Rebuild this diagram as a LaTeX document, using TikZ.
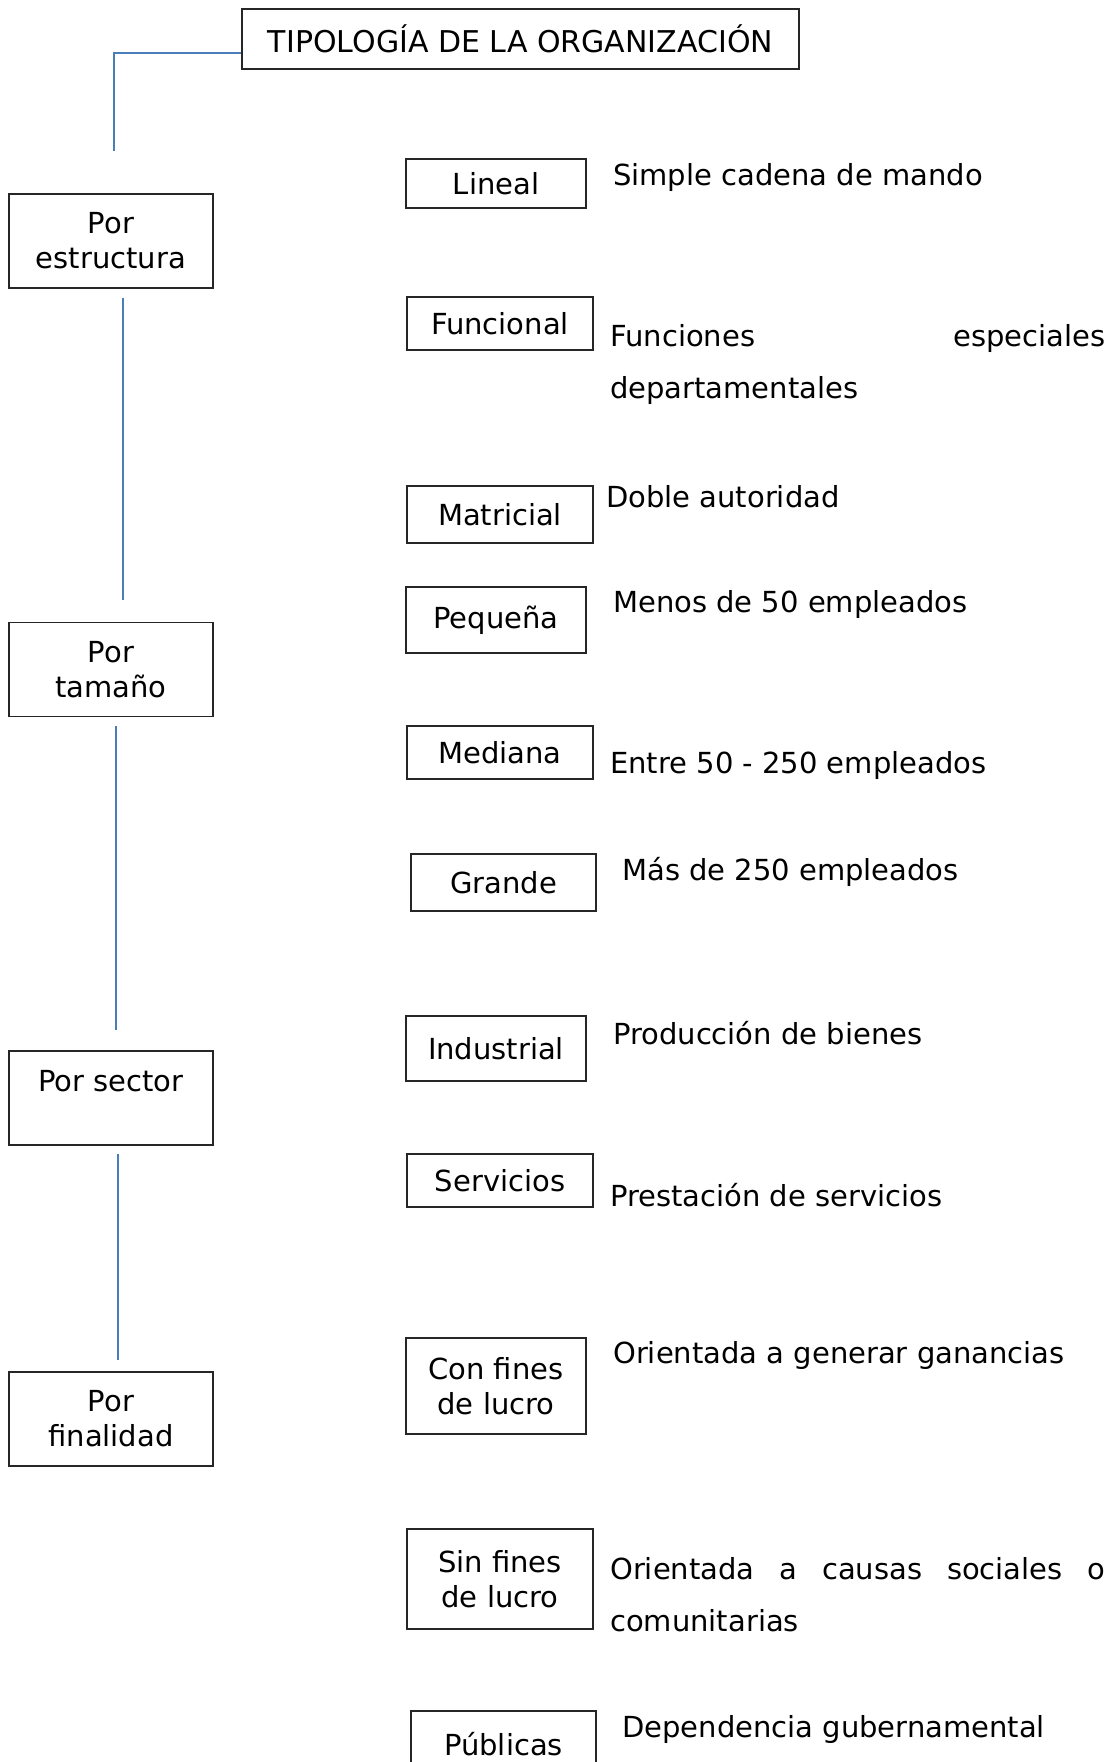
\documentclass[tikz,border=0pt]{standalone}
\usepackage{fontspec}
\setmainfont{DejaVu Sans}
\usepackage{tikz}
\usetikzlibrary{positioning}
\definecolor{azul}{HTML}{4A7EBB}

\begin{document}
\begin{tikzpicture}[x=1pt,y=-1pt,
    caja/.style={draw=black!85, line width=1.2pt, inner sep=0pt, align=center,
                 font=\fontsize{29}{35}\selectfont},
    cat/.style={caja, minimum width=204, minimum height=94},
    desc/.style={anchor=west, inner sep=0pt, font=\fontsize{29}{52}\selectfont},
    linea/.style={draw=azul, line width=1.5pt}]

    \useasboundingbox (0,0) rectangle (1116,1762);

    % titulo
    \node[caja, minimum width=557, minimum height=60, font=\fontsize{30}{35}\selectfont] (T) at (520.5,39) {TIPOLOGÍA DE LA ORGANIZACIÓN};

    % columna izquierda
    \foreach \n/\y/\t in {E/241/{Por\\estructura}, Ta/669.5/{Por\\tamaño}, Se/1098/{Por sector\\~}, F/1419/{Por\\finalidad}}
        \node[cat] (\n) at (111,\y) {\t};

    \coordinate (c0) at (114,151);
    \draw[linea] ([yshift=-14pt]T.west) -| (c0);
    \draw[linea] ([xshift=12pt,yshift=-9pt]E.south) -- ([xshift=12pt,yshift=22pt]Ta.north);
    \draw[linea] ([xshift=5pt,yshift=-9pt]Ta.south) -- ([xshift=5pt,yshift=20pt]Se.north);
    \draw[linea] ([xshift=7pt,yshift=-8pt]Se.south) -- ([xshift=7pt,yshift=11pt]F.north);

    % cajas de la derecha
    \node[caja, minimum width=180, minimum height=49] (lin) at (496,183.5) {Lineal};
    \node[caja, minimum width=186, minimum height=53] (fun) at (500,323.5) {Funcional};
    \node[caja, minimum width=186, minimum height=57] (mat) at (500,514.5) {Matricial};
    \node[caja, minimum width=180, minimum height=66] (peq) at (496,620) {Pequeña};
    \node[caja, minimum width=186, minimum height=53] (med) at (500,752.5) {Mediana};
    \node[caja, minimum width=185, minimum height=57] (gra) at (503.5,882.5) {Grande};
    \node[caja, minimum width=180, minimum height=65] (ind) at (496,1048.5) {Industrial};
    \node[caja, minimum width=186, minimum height=53] (ser) at (500,1180.5) {Servicios};
    \node[caja, minimum width=180, minimum height=96] (con) at (496,1386) {Con fines\\de lucro};
    \node[caja, minimum width=186, minimum height=100] (sin) at (500,1579) {Sin fines\\de lucro};
    \node[caja, minimum width=185, minimum height=66] (pub) at (503.5,1744) {Públicas};

    % descripciones
    \node[desc] (dlin) at (613,177) {Simple cadena de mando};
    \node[desc, text width=495, align=justify] (dfun) at (610,364) {Funciones especiales\linebreak \mbox{departamentales}};
    \node[desc] (dmat) at (606,497) {Doble autoridad};
    \node[desc] (dpeq) at (613,604) {Menos de 50 empleados};
    \node[desc] (dmed) at (610,765) {Entre 50 - 250 empleados};
    \node[desc] (dgra) at (622,872) {Más de 250 empleados};
    \node[desc] (dind) at (613,1033) {Producción de bienes};
    \node[desc] (dser) at (610,1195) {Prestación de servicios};
    \node[desc] (dcon) at (613,1355) {Orientada a generar ganancias};
    \node[desc, text width=495, align=justify] (dsin) at (610,1594.5) {Orientada a causas sociales o \mbox{comunitarias}};
    \node[desc] (dpub) at (622,1729) {Dependencia gubernamental};

\end{tikzpicture}
\end{document}
